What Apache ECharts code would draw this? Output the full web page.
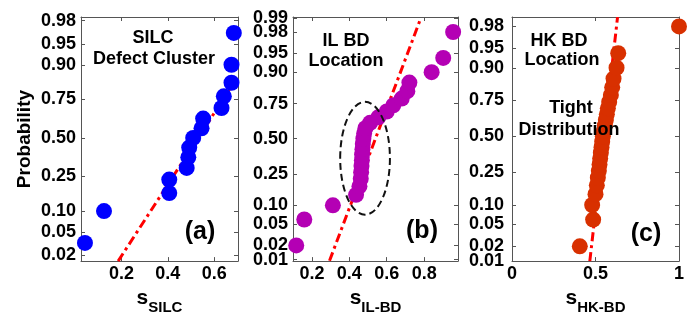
<!DOCTYPE html>
<html><head><meta charset="utf-8">
<script src="https://cdn.jsdelivr.net/npm/echarts@6/dist/echarts.min.js"></script>
<style>html,body{margin:0;padding:0;background:#fff}#c{width:694px;height:320px}</style>
</head><body><div id="c"></div>
<script>
// ---------- data ----------
// Panel (a): SILC defect cluster
const silcS = [0.043,0.125,0.406,0.406,0.481,0.488,0.492,0.509,0.545,0.552,0.631,0.641,0.674,0.674,0.684];
const silcP = [0.033,0.100,0.167,0.233,0.300,0.367,0.433,0.500,0.567,0.633,0.700,0.767,0.833,0.900,0.967];
const silcFitS = [0.186,0.684];
const silcFitP = [0.0155,0.833];
// Panel (b): IL BD location
const ilS = [0.116,0.159,0.312,0.436,0.454,0.461,0.463,0.465,0.467,0.468,0.470,0.472,0.475,0.479,0.486,0.511,0.555,0.600,0.635,0.680,0.710,0.721,0.840,0.902,0.955];
const ilP = [0.02,0.06,0.10,0.14,0.18,0.22,0.26,0.30,0.34,0.38,0.42,0.46,0.50,0.54,0.58,0.62,0.66,0.70,0.74,0.78,0.82,0.86,0.90,0.94,0.98];
const ilFitS = [0.294,0.783];
const ilFitP = [0.0094,0.9901];
const ilEllipseS = [0.351,0.617];
const ilEllipseP = [0.072,0.761];
// Panel (c): HK BD location
const hkS = [0.406,0.486,0.480,0.500,0.508,0.514,0.520,0.524,0.528,0.532,0.536,0.540,0.544,0.550,0.556,0.562,0.568,0.574,0.582,0.592,0.600,0.608,0.626,0.636,1.000];
const hkP = [0.02,0.06,0.10,0.14,0.18,0.22,0.26,0.30,0.34,0.38,0.42,0.46,0.50,0.54,0.58,0.62,0.66,0.70,0.74,0.78,0.82,0.86,0.90,0.94,0.98];
const hkFitS = [0.466,0.632];
const hkFitP = [0.0099,0.987];
// tick labels
const probTicksA = [0.02,0.05,0.10,0.25,0.50,0.75,0.90,0.95,0.98];
const probTicksB = [0.01,0.02,0.05,0.10,0.25,0.50,0.75,0.90,0.95,0.98,0.99];
const probTicksC = [0.01,0.02,0.05,0.10,0.25,0.50,0.75,0.90,0.95,0.98];
const probTicksTight = [0.01,0.99]; // labels crowded against their neighbours
const sTicksA = [0.2,0.4,0.6];
const sTicksB = [0.2,0.4,0.6,0.8];
const sTicksC = [0,0.5,1];
const xNamesSub = ['SILC','IL-BD','HK-BD'];
const yName = 'Probability';

// ---------- helpers ----------
function probit(p){
 const a=[-3.969683028665376e+01,2.209460984245205e+02,-2.759285104469687e+02,1.383577518672690e+02,-3.066479806614716e+01,2.506628277459239e+00];
 const b=[-5.447609879822406e+01,1.615858368580409e+02,-1.556989798598866e+02,6.680131188771972e+01,-1.328068155288572e+01];
 const c=[-7.784894002430293e-03,-3.223964580411365e-01,-2.400758277161838e+00,-2.549732539343734e+00,4.374664141464968e+00,2.938163982698783e+00];
 const d=[7.784695709041462e-03,3.224671290700398e-01,2.445134137142996e+00,3.754408661907416e+00];
 const pl=0.02425, ph=1-pl; let q,r;
 if(p<pl){q=Math.sqrt(-2*Math.log(p));return (((((c[0]*q+c[1])*q+c[2])*q+c[3])*q+c[4])*q+c[5])/((((d[0]*q+d[1])*q+d[2])*q+d[3])*q+1);}
 if(p<=ph){q=p-0.5;r=q*q;return (((((a[0]*r+a[1])*r+a[2])*r+a[3])*r+a[4])*r+a[5])*q/(((((b[0]*r+b[1])*r+b[2])*r+b[3])*r+b[4])*r+1);}
 q=Math.sqrt(-2*Math.log(1-p));return -(((((c[0]*q+c[1])*q+c[2])*q+c[3])*q+c[4])*q+c[5])/((((d[0]*q+d[1])*q+d[2])*q+d[3])*q+1);
}
const FONT = '"Liberation Sans", Arial, sans-serif';
const pair = (xs, ps) => xs.map((x,i)=>[x, probit(ps[i])]);

const panels = [
 {grid:{left:81,top:17,width:157,height:249}, xr:[0.026,0.702], zr:[-2.157,2.118], s:silcS,p:silcP, fs:silcFitS, fp:silcFitP, color:'#0000FF', xt:sTicksA, yt:probTicksA, lm:5},
 {grid:{left:293,top:17,width:165,height:249}, xr:[0.0987,0.981], zr:[-2.355,2.343], s:ilS,p:ilP, fs:ilFitS, fp:ilFitP, color:'#B400B4', xt:sTicksB, yt:probTicksB, lm:5},
 {grid:{left:512,top:17,width:167,height:250}, xr:[0,1], zr:[-2.33,2.23], s:hkS,p:hkP, fs:hkFitS, fp:hkFitP, color:'#D83000', xt:sTicksC, yt:probTicksC, lm:8}
];

const axisLine = {show:true, onZero:false, lineStyle:{color:'#555', width:1}};
const tickStyle = {color:'#555', width:1};
const labelStyle = {fontSize:18, fontWeight:'bold', color:'#000', fontFamily:FONT};
const grids=[], xAxes=[], yAxes=[], series=[];
const ellAxes = {};
panels.forEach((P,i)=>{
  grids.push(P.grid);
  const zt = P.yt.map(probit);
  const fmtY = v => { let best=0; zt.forEach((z,k)=>{ if(Math.abs(z-v)<Math.abs(zt[best]-v)) best=k; }); return P.yt[best].toFixed(2); };
  const mainLab = P.yt.filter(p=>!probTicksTight.includes(p)).map(probit);
  const tightLab = P.yt.filter(p=>probTicksTight.includes(p)).map(probit);
  const xi = xAxes.length;
  xAxes.push({gridIndex:i, type:'value', position:'bottom', min:P.xr[0], max:P.xr[1], splitLine:{show:false},
    axisLine, axisTick:{show:true, inside:true, length:4, customValues:P.xt, lineStyle:tickStyle},
    axisLabel:Object.assign({customValues:P.xt, formatter:v=>String(+(+v).toFixed(2)), margin:4}, labelStyle),
    name:'{s|s}{sub|'+xNamesSub[i]+'}', nameLocation:'middle', nameGap:23,
    nameTextStyle:{rich:{
      s:{fontSize:21, fontWeight:'bold', fontFamily:FONT, color:'#000', padding:[0,0,6,0], verticalAlign:'bottom'},
      sub:{fontSize:15, fontWeight:'bold', fontFamily:FONT, color:'#000', verticalAlign:'bottom'}}}});
  xAxes.push({gridIndex:i, type:'value', position:'top', min:P.xr[0], max:P.xr[1], splitLine:{show:false},
    axisLine, axisTick:{show:true, inside:true, length:4, customValues:P.xt, lineStyle:tickStyle}, axisLabel:{show:false}});
  const yi = yAxes.length;
  const yl = {gridIndex:i, type:'value', position:'left', min:P.zr[0], max:P.zr[1], splitLine:{show:false},
    axisLine, axisTick:{show:true, inside:true, length:4, customValues:zt, lineStyle:tickStyle},
    axisLabel:Object.assign({customValues:mainLab, formatter:fmtY, margin:P.lm}, labelStyle)};
  if(i===0){ Object.assign(yl,{name:yName, nameLocation:'middle', nameGap:47, nameTextStyle:{fontSize:19, fontWeight:'bold', color:'#000', fontFamily:FONT}}); }
  yAxes.push(yl);
  yAxes.push({gridIndex:i, type:'value', position:'right', min:P.zr[0], max:P.zr[1], splitLine:{show:false},
    axisLine, axisTick:{show:true, inside:true, length:4, customValues:zt, lineStyle:tickStyle}, axisLabel:{show:false}});
  if(tightLab.length){
    yAxes.push({gridIndex:i, type:'value', position:'left', offset:0, min:P.zr[0], max:P.zr[1], splitLine:{show:false},
      axisLine:{show:false}, axisTick:{show:false},
      axisLabel:Object.assign({customValues:tightLab, formatter:fmtY, margin:P.lm}, labelStyle)});
  }
  if(i===1){ ellAxes.x = xi; ellAxes.y = yi; }
  series.push({type:'line', xAxisIndex:xi, yAxisIndex:yi, data:pair(P.fs,P.fp), symbol:'none', clip:true, z:1,
    lineStyle:{color:'#FF0000', width:3, type:[9,4,3,4]}, silent:true, animation:false});
  series.push({type:'scatter', xAxisIndex:xi, yAxisIndex:yi, data:pair(P.s,P.p), symbol:'circle', symbolSize:16, clip:false, z:3,
    itemStyle:{color:P.color, opacity:1}, animation:false});
});

const chart = echarts.init(document.getElementById('c'), null, {renderer:'canvas'});
chart.setOption({animation:false, backgroundColor:'#fff', grid:grids, xAxis:xAxes, yAxis:yAxes, series});

// annotations
function txt(id, text, x, y, size){ return {id, type:'text', z:10, style:{text, x, y, textAlign:'center', textVerticalAlign:'middle', font:'bold '+size+'px '+FONT, fill:'#000'}}; }
const g = [
  txt('t1','SILC',153,38,18), txt('t2','Defect Cluster',154,59,18),
  txt('t3','IL BD',346,41,18), txt('t4','Location',346,61,18),
  txt('t5','HK BD',559,41,18), txt('t6','Location',562,60,18),
  txt('t7','Tight',571,108,18), txt('t8','Distribution',569,130,18),
  txt('t9','(a)',200,232,25), txt('t10','(b)',422,231,25), txt('t11','(c)',646,234,25)
];
const p1 = chart.convertToPixel({xAxisIndex:ellAxes.x, yAxisIndex:ellAxes.y}, [ilEllipseS[0], probit(ilEllipseP[0])]);
const p2 = chart.convertToPixel({xAxisIndex:ellAxes.x, yAxisIndex:ellAxes.y}, [ilEllipseS[1], probit(ilEllipseP[1])]);
g.push({id:'ell', type:'ellipse', z:8, shape:{cx:(p1[0]+p2[0])/2, cy:(p1[1]+p2[1])/2, rx:Math.abs(p2[0]-p1[0])/2, ry:Math.abs(p2[1]-p1[1])/2},
  style:{fill:'none', stroke:'#111', lineWidth:2, lineDash:[7,4]}});
chart.setOption({graphic:g});
</script></body></html>
